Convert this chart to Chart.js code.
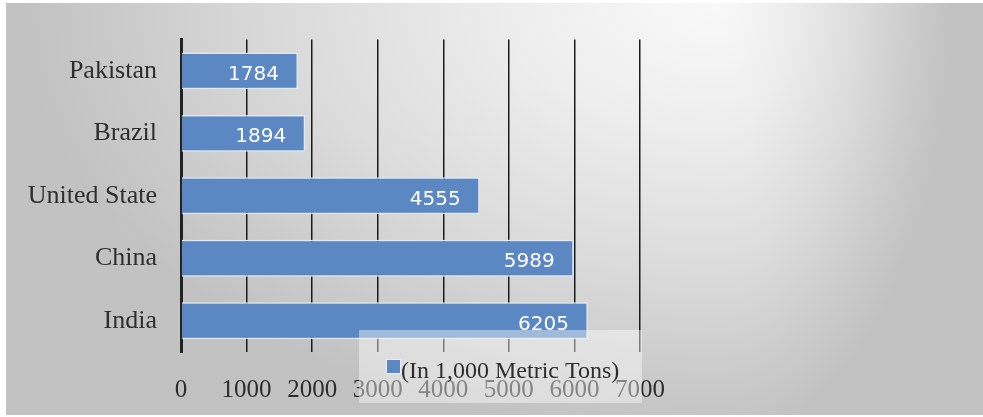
<!DOCTYPE html>
<html>
<head>
<meta charset="utf-8">
<script src="https://cdn.jsdelivr.net/npm/chart.js@4/dist/chart.umd.min.js"></script>
<style>
  html, body { margin: 0; padding: 0; background: #ffffff; }
  #wrap { width: 983px; height: 417px; }
</style>
</head>
<body>
<div id="wrap"><canvas id="c" width="983" height="417"></canvas></div>
<script>
// Countries (top to bottom) and production in thousand metric tons
const countries = ['Pakistan', 'Brazil', 'United State', 'China', 'India'];
const production = [1784, 1894, 4555, 5989, 6205];
const seriesLabel = '(In 1,000 Metric Tons)';
const xTicks = [0, 1000, 2000, 3000, 4000, 5000, 6000, 7000];

const SERIF = '"Liberation Serif", "Times New Roman", serif';
const BAR_BLUE = '#5b88c2';

// Soft grey panel with a bright spot near the upper right
const panelBackground = {
  id: 'panelBackground',
  beforeDraw(chart) {
    const ctx = chart.ctx;
    const W = chart.width, H = chart.height;
    ctx.save();
    ctx.fillStyle = '#ffffff';
    ctx.fillRect(0, 0, W, H);
    const px = 6, py = 3, pw = W - 6, ph = 412;
    const cx = 720, cy = 0;
    const stops = [[0, '#f9f9f9'], [0.3, '#ededed'], [0.6, '#dcdcdc'], [0.85, '#cbcbcb'], [1, '#c2c2c2']];
    const halves = [
      { x0: px, x1: cx, rx: 700 },
      { x0: cx, x1: px + pw, rx: 230 }
    ];
    const ry = 440;
    halves.forEach(h => {
      ctx.save();
      ctx.beginPath();
      ctx.rect(h.x0, py, h.x1 - h.x0, ph);
      ctx.clip();
      ctx.translate(cx, cy);
      ctx.scale(h.rx / ry, 1);
      const g = ctx.createRadialGradient(0, 0, 0, 0, 0, ry);
      stops.forEach(s => g.addColorStop(s[0], s[1]));
      ctx.fillStyle = g;
      ctx.fillRect(-3000, -100, 6000, 1000);
      ctx.restore();
    });
    ctx.restore();
  }
};

// Value labels inside the bar ends
const barValues = {
  id: 'barValues',
  afterDatasetsDraw(chart) {
    const ctx = chart.ctx;
    const meta = chart.getDatasetMeta(0);
    const vals = chart.data.datasets[0].data;
    ctx.save();
    ctx.font = '20px "DejaVu Sans", Verdana, sans-serif';
    ctx.fillStyle = '#ffffff';
    ctx.textAlign = 'right';
    ctx.textBaseline = 'alphabetic';
    meta.data.forEach((bar, i) => {
      ctx.fillText(String(vals[i]), bar.x - 19, bar.y + 9);
    });
    ctx.restore();
  }
};

// Translucent legend box overlapping the lower axis
const legendBox = {
  id: 'legendBox',
  afterDraw(chart) {
    const ctx = chart.ctx;
    const ds = chart.data.datasets[0];
    ctx.save();
    ctx.fillStyle = 'rgba(255,255,255,0.42)';
    ctx.fillRect(359, 330, 283, 73);
    // swatch
    ctx.fillStyle = ds.backgroundColor;
    ctx.fillRect(387, 360, 13, 13);
    ctx.strokeStyle = '#e6eef8';
    ctx.lineWidth = 1;
    ctx.strokeRect(386.5, 359.5, 14, 14);
    ctx.font = '24px ' + SERIF;
    ctx.fillStyle = '#2e2e2e';
    ctx.textAlign = 'left';
    ctx.textBaseline = 'alphabetic';
    ctx.fillText(ds.label, 401, 378);
    ctx.restore();
  }
};

new Chart(document.getElementById('c'), {
  type: 'bar',
  data: {
    labels: countries,
    datasets: [{
      label: seriesLabel,
      data: production,
      backgroundColor: BAR_BLUE,
      borderColor: '#dfe8f4',
      borderWidth: 1.5,
      barPercentage: 0.59,
      categoryPercentage: 1
    }]
  },
  options: {
    indexAxis: 'y',
    responsive: false,
    animation: false,
    events: [],
    layout: { padding: { top: 38, right: 343, left: 0, bottom: 0 } },
    plugins: {
      legend: { display: false },
      tooltip: { enabled: false },
      title: { display: false }
    },
    scales: {
      x: {
        min: 0,
        max: 7000,
        afterBuildTicks(scale) { scale.ticks = xTicks.map(v => ({ value: v })); },
        afterFit(scale) { scale.height = 65; },
        grid: { color: '#1c1c1c', lineWidth: 1.5, drawTicks: false },
        border: { display: false },
        ticks: {
          padding: 23,
          color: '#2e2e2e',
          font: { family: SERIF, size: 25 },
          callback: v => String(v),
          maxRotation: 0,
          autoSkip: false
        }
      },
      y: {
        afterFit(scale) { scale.width = 181; },
        grid: { display: false, drawTicks: false },
        border: { display: true, color: '#222222', width: 3 },
        ticks: {
          padding: 24,
          color: '#2e2e2e',
          font: { family: SERIF, size: 26 }
        }
      }
    }
  },
  plugins: [panelBackground, barValues, legendBox]
});
</script>
</body>
</html>
